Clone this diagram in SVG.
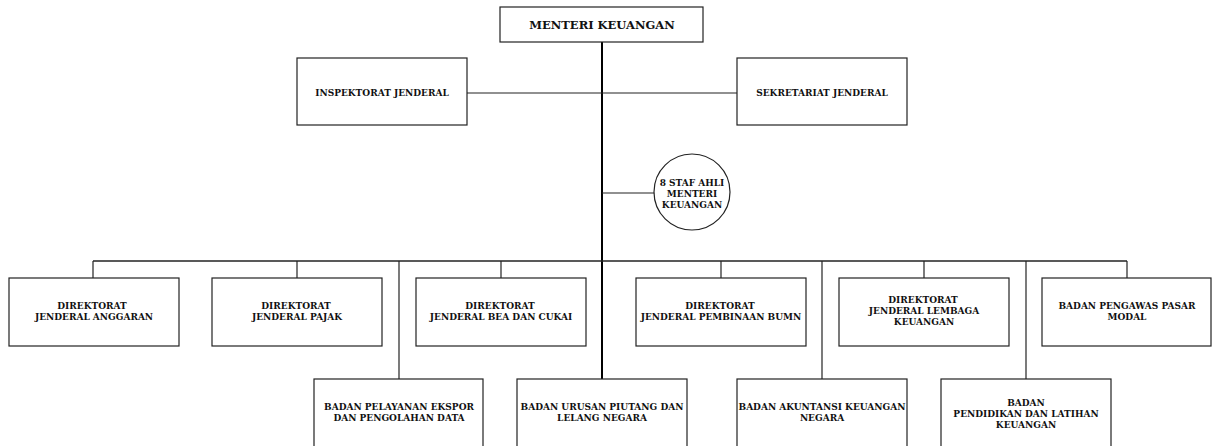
<svg xmlns="http://www.w3.org/2000/svg" width="1212" height="446" viewBox="0 0 1212 446">
<style>
.box{fill:#fff;stroke:#222;stroke-width:1.2}
.t{font-family:"DejaVu Serif","Liberation Serif",serif;font-weight:bold;font-size:9px;fill:#111;text-anchor:middle;dominant-baseline:central}
.big{font-size:11.5px}
.ln{stroke:#222;stroke-width:1.2;fill:none}
.main{stroke:#000;stroke-width:2;fill:none}
</style>
<rect width="1212" height="446" fill="#fff"/>
<g id="connectors">
<line class="main" x1="602" y1="42" x2="602" y2="446"/>
<line class="ln" x1="467" y1="93" x2="737" y2="93"/>
<line class="ln" x1="602" y1="193" x2="655" y2="193"/>
<line class="ln" x1="93" y1="261" x2="1127" y2="261" style="stroke-width:1.5"/>
<line class="ln" x1="93" y1="261" x2="93" y2="278"/>
<line class="ln" x1="297" y1="261" x2="297" y2="278"/>
<line class="ln" x1="501" y1="261" x2="501" y2="278"/>
<line class="ln" x1="721" y1="261" x2="721" y2="278"/>
<line class="ln" x1="924" y1="261" x2="924" y2="278"/>
<line class="ln" x1="1127" y1="261" x2="1127" y2="278"/>
<line class="ln" x1="399" y1="261" x2="399" y2="379"/>
<line class="ln" x1="822" y1="261" x2="822" y2="379"/>
<line class="ln" x1="1026" y1="261" x2="1026" y2="379"/>
</g>
<g id="menteri"><rect class="box" x="500" y="7" width="203" height="35"/><text class="t big" x="602" y="25">MENTERI KEUANGAN</text></g>
<g id="inspektorat"><rect class="box" x="297" y="58" width="170" height="67"/><text class="t" x="382" y="93">INSPEKTORAT JENDERAL</text></g>
<g id="sekretariat"><rect class="box" x="737" y="58" width="170" height="67"/><text class="t" x="822" y="93">SEKRETARIAT JENDERAL</text></g>
<g id="staf"><circle class="box" cx="692" cy="192" r="38"/><text class="t" x="692" y="183">8 STAF AHLI</text><text class="t" x="692" y="194">MENTERI</text><text class="t" x="692" y="205">KEUANGAN</text></g>
<g id="dja"><rect class="box" x="9" y="278" width="170" height="68"/><text class="t" x="92" y="306">DIREKTORAT</text><text class="t" x="94" y="317">JENDERAL ANGGARAN</text></g>
<g id="djp"><rect class="box" x="212" y="278" width="170" height="68"/><text class="t" x="296" y="306">DIREKTORAT</text><text class="t" x="297" y="317">JENDERAL PAJAK</text></g>
<g id="djbc"><rect class="box" x="416" y="278" width="170" height="68"/><text class="t" x="500" y="306">DIREKTORAT</text><text class="t" x="501" y="317">JENDERAL BEA DAN CUKAI</text></g>
<g id="djpbumn"><rect class="box" x="636" y="278" width="170" height="68"/><text class="t" x="720" y="306">DIREKTORAT</text><text class="t" x="721" y="317">JENDERAL PEMBINAAN BUMN</text></g>
<g id="djlk"><rect class="box" x="839" y="278" width="170" height="68"/><text class="t" x="923" y="300">DIREKTORAT</text><text class="t" x="924" y="311">JENDERAL LEMBAGA</text><text class="t" x="924" y="322">KEUANGAN</text></g>
<g id="bapepam"><rect class="box" x="1042" y="278" width="169" height="68"/><text class="t" x="1127" y="306">BADAN PENGAWAS PASAR</text><text class="t" x="1127" y="317">MODAL</text></g>
<g id="bpepd"><rect class="box" x="314" y="379" width="169" height="72"/><text class="t" x="399" y="407">BADAN PELAYANAN EKSPOR</text><text class="t" x="399" y="418">DAN PENGOLAHAN DATA</text></g>
<g id="bupln"><rect class="box" x="517" y="379" width="170" height="72"/><text class="t" x="602" y="407">BADAN URUSAN PIUTANG DAN</text><text class="t" x="602" y="418">LELANG NEGARA</text></g>
<g id="bakun"><rect class="box" x="737" y="379" width="170" height="72"/><text class="t" x="822" y="407">BADAN AKUNTANSI KEUANGAN</text><text class="t" x="822" y="418">NEGARA</text></g>
<g id="bpdlk"><rect class="box" x="941" y="379" width="170" height="72"/><text class="t" x="1026" y="403">BADAN</text><text class="t" x="1026" y="414">PENDIDIKAN DAN LATIHAN</text><text class="t" x="1026" y="425">KEUANGAN</text></g>
</svg>
